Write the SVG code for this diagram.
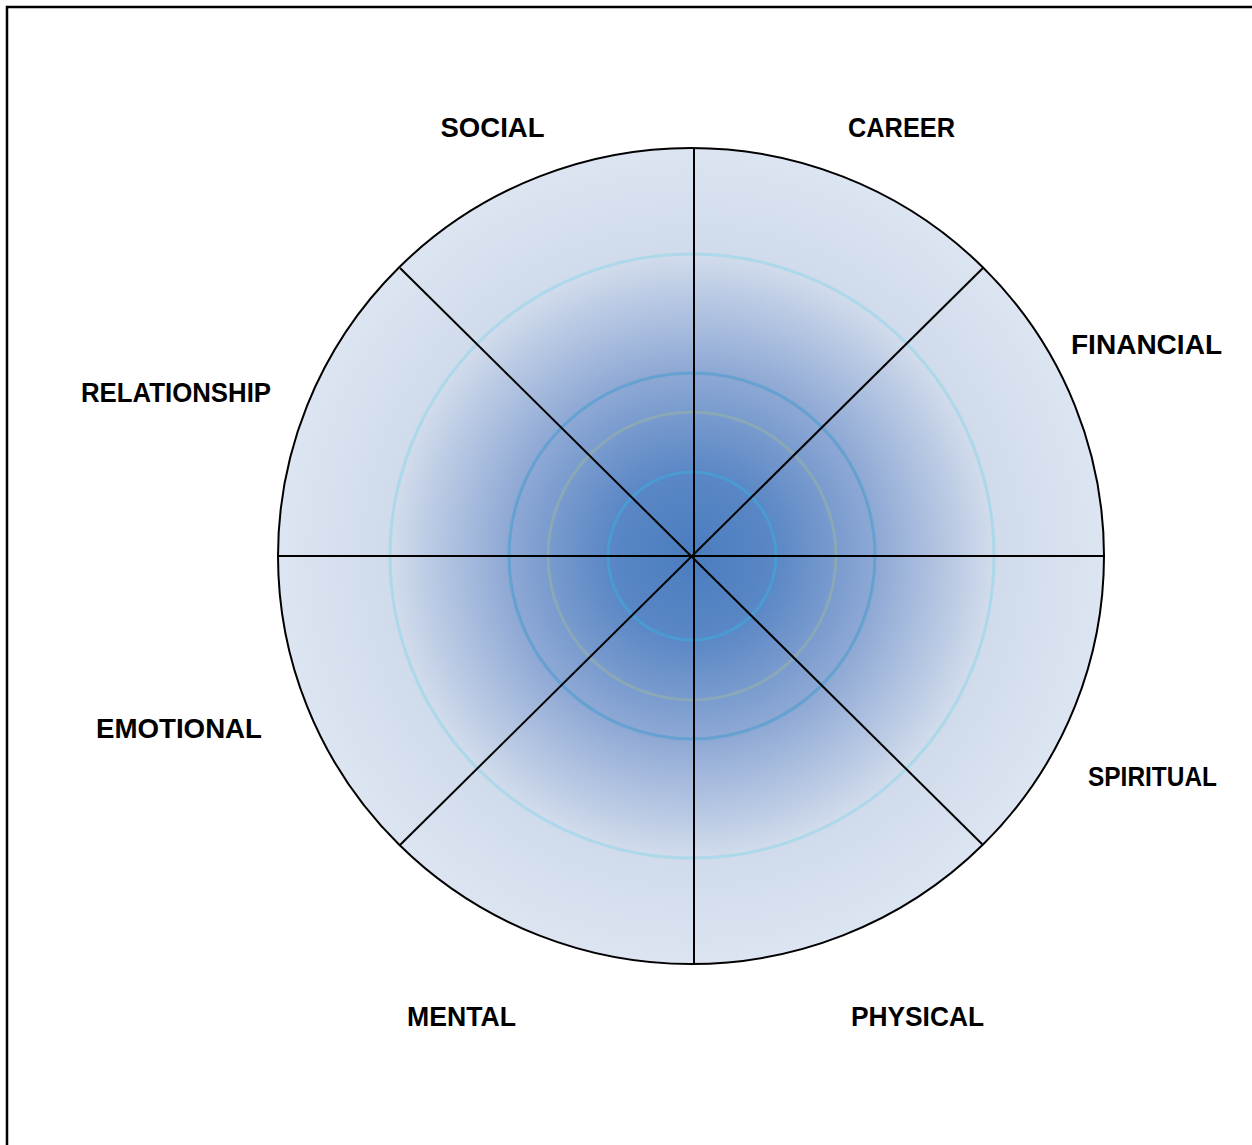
<svg xmlns="http://www.w3.org/2000/svg" width="1252" height="1145" viewBox="0 0 1252 1145">
  <defs>
    <radialGradient id="wheelGrad" gradientUnits="userSpaceOnUse" cx="692" cy="556" r="413">
      <stop offset="0" stop-color="#4a7dbf"/>
      <stop offset="0.2" stop-color="#5a87c5"/>
      <stop offset="0.45" stop-color="#8fa9d5"/>
      <stop offset="0.72" stop-color="#cfdaeb"/>
      <stop offset="1" stop-color="#dce5f1"/>
    </radialGradient>
  </defs>
  <style>
    .label { font-family: "Liberation Sans", Arial, sans-serif; font-weight: bold; font-size: 27px; fill: #000000; text-anchor: middle; }
    .spoke { stroke: #000000; stroke-width: 2; fill: none; }
    .ring { fill: none; stroke-width: 3; }
  </style>
  <rect x="7" y="7" width="1270" height="1170" fill="#ffffff" stroke="#000000" stroke-width="2.5"/>
  <g id="wheel">
    <ellipse cx="691" cy="556" rx="413" ry="408" fill="url(#wheelGrad)"/>
    <circle class="ring" cx="692" cy="556" r="302" stroke="#add8ea"/>
    <circle class="ring" cx="692" cy="556" r="183" stroke="#5b9fd0" stroke-opacity="0.8"/>
    <circle class="ring" cx="692" cy="556" r="144" stroke="#8fabb0" stroke-opacity="0.8"/>
    <circle class="ring" cx="692" cy="556" r="84" stroke="#4b9bd3"/>
  </g>
  <g id="connectors">
    <line class="spoke" x1="694" y1="148" x2="694" y2="964"/>
    <line class="spoke" x1="278" y1="556" x2="1105" y2="556"/>
    <line class="spoke" x1="400" y1="268" x2="983" y2="845"/>
    <line class="spoke" x1="983" y1="268" x2="400" y2="845"/>
    <ellipse cx="691" cy="556" rx="413" ry="408" fill="none" stroke="#000000" stroke-width="2"/>
  </g>
  <g id="social"><text class="label" x="492.5" y="137" textLength="104" lengthAdjust="spacingAndGlyphs">SOCIAL</text></g>
  <g id="career"><text class="label" x="901.5" y="137" textLength="107" lengthAdjust="spacingAndGlyphs">CAREER</text></g>
  <g id="financial"><text class="label" x="1146.5" y="354" textLength="151" lengthAdjust="spacingAndGlyphs">FINANCIAL</text></g>
  <g id="relationship"><text class="label" x="176" y="402" textLength="190" lengthAdjust="spacingAndGlyphs">RELATIONSHIP</text></g>
  <g id="emotional"><text class="label" x="179" y="738" textLength="166" lengthAdjust="spacingAndGlyphs">EMOTIONAL</text></g>
  <g id="spiritual"><text class="label" x="1152.5" y="786" textLength="129" lengthAdjust="spacingAndGlyphs">SPIRITUAL</text></g>
  <g id="mental"><text class="label" x="461.5" y="1026" textLength="109" lengthAdjust="spacingAndGlyphs">MENTAL</text></g>
  <g id="physical"><text class="label" x="917.5" y="1026" textLength="133" lengthAdjust="spacingAndGlyphs">PHYSICAL</text></g>
</svg>
